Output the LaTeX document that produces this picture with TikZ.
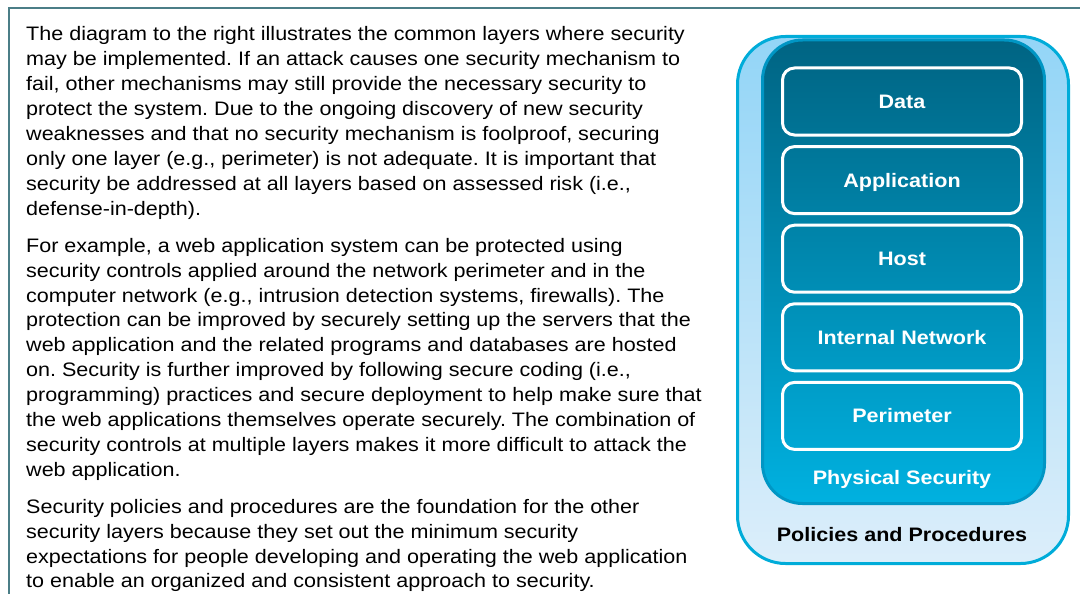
\documentclass[tikz,border=0pt]{standalone}
\usepackage{fontspec}
\newfontfamily\bodyfont[FakeStretch=1.105]{Liberation Sans}
\definecolor{framecol}{HTML}{4B7E87}
\definecolor{ringcol}{HTML}{00ACD9}
\definecolor{outertop}{HTML}{93D5F7}
\definecolor{outerbot}{HTML}{DCEEFA}
\definecolor{innertop}{HTML}{006483}
\definecolor{innerbot}{HTML}{00B1E0}
\definecolor{innerrim}{HTML}{0096C4}
\frenchspacing
\begin{document}
\begin{tikzpicture}[x=1pt,y=-1pt,
  para/.style={anchor=north west, inner sep=0pt, align=left,
    font=\bodyfont\fontsize{19.5}{24.9}\selectfont},
  layerbox/.style={draw=white, line width=3pt, rounded corners=12pt,
    minimum width=239pt, minimum height=67pt, inner sep=0pt,
    text=white, text height=14pt, text depth=0pt,
    font=\bodyfont\bfseries\fontsize{19.5}{24}\selectfont},
  caption/.style={inner sep=0pt, text height=14pt, text depth=0pt,
    font=\bodyfont\bfseries\fontsize{19.5}{24}\selectfont}]
\useasboundingbox (0,0) rectangle (1080,594);

% frame rule along the top and left edge
\coordinate (frameR) at (1080,8.3);
\coordinate (frameB) at (8.7,594);
\draw[framecol, line width=2.2pt] (frameR) -| (frameB);

% explanatory text
\node[para] (p1) at (26,24.5) {\rule{0pt}{16pt}The diagram to the right illustrates the common layers where security\\
may be implemented. If an attack causes one security mechanism to\\
fail, other mechanisms may still provide the necessary security to\\
protect the system. Due to the ongoing discovery of new security\\
weaknesses and that no security mechanism is foolproof, securing\\
only one layer (e.g., perimeter) is not adequate. It is important that\\
security be addressed at all layers based on assessed risk (i.e.,\\
defense-in-depth).};

\node[para] (p2) at (26,236) {\rule{0pt}{16pt}For example, a web application system can be protected using\\
security controls applied around the network perimeter and in the\\
computer network (e.g., intrusion detection systems, firewalls). The\\
protection can be improved by securely setting up the servers that the\\
web application and the related programs and databases are hosted\\
on. Security is further improved by following secure coding (i.e.,\\
programming) practices and secure deployment to help make sure that\\
the web applications themselves operate securely. The combination of\\
security controls at multiple layers makes it more difficult to attack the\\
web application.};

\node[para] (p3) at (26,497) {\rule{0pt}{16pt}Security policies and procedures are the foundation for the other\\
security layers because they set out the minimum security\\
expectations for people developing and operating the web application\\
to enable an organized and consistent approach to security.};

% outer layer: policies and procedures
\shade[top color=outertop, bottom color=outerbot, rounded corners=48pt]
  (737.5,36.5) rectangle (1068.5,563.5);
\draw[ringcol, line width=3pt, rounded corners=48pt]
  (737.5,36.5) rectangle (1068.5,563.5);

% physical security layer
\shade[top color=innertop, bottom color=innerbot, rounded corners=40pt]
  (762.5,40) rectangle (1044.5,503.5);
\draw[innerrim, line width=3pt, rounded corners=40pt]
  (762.5,40) rectangle (1044.5,503.5);

% inner layers
\node[layerbox] (data) at (902,101.5) {Data};
\node[layerbox] (app)  at (902,180.1) {Application};
\node[layerbox] (host) at (902,258.7) {Host};
\node[layerbox] (net)  at (902,337.3) {Internal Network};
\node[layerbox] (peri) at (902,415.9) {Perimeter};

\node[caption, text=white] (phys) at (902,477) {Physical Security};
\node[caption, text=black] (pol)  at (902,534.5) {Policies and Procedures};
\end{tikzpicture}
\end{document}
